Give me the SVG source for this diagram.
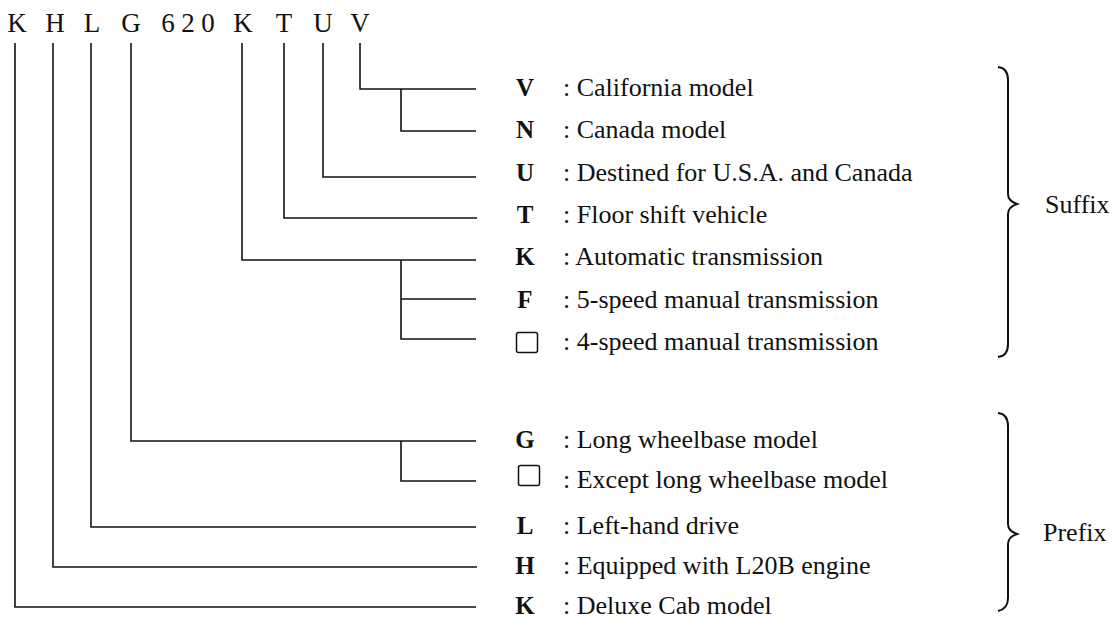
<svg xmlns="http://www.w3.org/2000/svg" width="1114" height="620" viewBox="0 0 1114 620">
<style>
  .hdr { font-family: "Liberation Serif", "Times New Roman", serif; font-size: 27px; fill: #111; text-anchor: middle; }
  .code { font-family: "Liberation Serif", "Times New Roman", serif; font-size: 25px; font-weight: bold; fill: #111; text-anchor: middle; }
  .desc { font-family: "Liberation Serif", "Times New Roman", serif; font-size: 26px; fill: #111; }
  .grp { font-family: "Liberation Serif", "Times New Roman", serif; font-size: 26px; fill: #111; }
  .ln { fill: none; stroke: #111; stroke-width: 1.6; }
  .br { fill: none; stroke: #111; stroke-width: 2; }
  .box { fill: none; stroke: #111; stroke-width: 1.5; }
</style>
<rect width="1114" height="620" fill="#fff"/>
<g id="model-code">
  <text class="hdr" x="17" y="32">K</text>
  <text class="hdr" x="55" y="32">H</text>
  <text class="hdr" x="92" y="32">L</text>
  <text class="hdr" x="131" y="32">G</text>
  <text class="hdr" x="168" y="32">6</text>
  <text class="hdr" x="188" y="32">2</text>
  <text class="hdr" x="208" y="32">0</text>
  <text class="hdr" x="243" y="32">K</text>
  <text class="hdr" x="284" y="32">T</text>
  <text class="hdr" x="323" y="32">U</text>
  <text class="hdr" x="360" y="32">V</text>
</g>
<g id="connectors">
  <path class="ln" d="M360,43 V89 H476 M401,89 V131 H476"/>
  <path class="ln" d="M323,43 V177 H476"/>
  <path class="ln" d="M284,43 V218 H477"/>
  <path class="ln" d="M242,43 V260 H476 M401,260 V339 H476 M401,299 H476"/>
  <path class="ln" d="M131,43 V441 H476 M401,441 V481 H476"/>
  <path class="ln" d="M91,43 V527 H476"/>
  <path class="ln" d="M53,43 V567 H477"/>
  <path class="ln" d="M15,43 V607 H476"/>
</g>
<g id="row-V"><text class="code" x="525" y="96">V</text><text class="desc" x="563" y="96">: California model</text></g>
<g id="row-N"><text class="code" x="525" y="138">N</text><text class="desc" x="563" y="138">: Canada model</text></g>
<g id="row-U"><text class="code" x="525" y="181">U</text><text class="desc" x="563" y="181">: Destined for U.S.A. and Canada</text></g>
<g id="row-T"><text class="code" x="525" y="223">T</text><text class="desc" x="563" y="223">: Floor shift vehicle</text></g>
<g id="row-K-auto"><text class="code" x="525" y="265">K</text><text class="desc" x="563" y="265">: Automatic transmission</text></g>
<g id="row-F"><text class="code" x="525" y="308">F</text><text class="desc" x="563" y="308">: 5-speed manual transmission</text></g>
<g id="row-blank-4speed"><rect class="box" x="516.5" y="332.5" width="21" height="20" rx="2"/><text class="desc" x="563" y="350">: 4-speed manual transmission</text></g>
<g id="row-G"><text class="code" x="525" y="448">G</text><text class="desc" x="563" y="448">: Long wheelbase model</text></g>
<g id="row-blank-std"><rect class="box" x="518.5" y="465.5" width="21" height="20" rx="2"/><text class="desc" x="563" y="488">: Except long wheelbase model</text></g>
<g id="row-L"><text class="code" x="525" y="534">L</text><text class="desc" x="563" y="534">: Left-hand drive</text></g>
<g id="row-H"><text class="code" x="525" y="574">H</text><text class="desc" x="563" y="574">: Equipped with L20B engine</text></g>
<g id="row-K-deluxe"><text class="code" x="525" y="614">K</text><text class="desc" x="563" y="614">: Deluxe Cab model</text></g>
<g id="suffix">
  <path class="br" d="M998,67 Q1008,68 1008,80 L1008,194 Q1008,201 1017,204 Q1008,207 1008,214 L1008,344 Q1008,356 998,357"/>
  <text class="grp" x="1045" y="213">Suffix</text>
</g>
<g id="prefix">
  <path class="br" d="M998,413 Q1008,414 1008,426 L1008,524 Q1008,531 1017,534 Q1008,537 1008,544 L1008,598 Q1008,609 998,611"/>
  <text class="grp" x="1043" y="541">Prefix</text>
</g>
</svg>
